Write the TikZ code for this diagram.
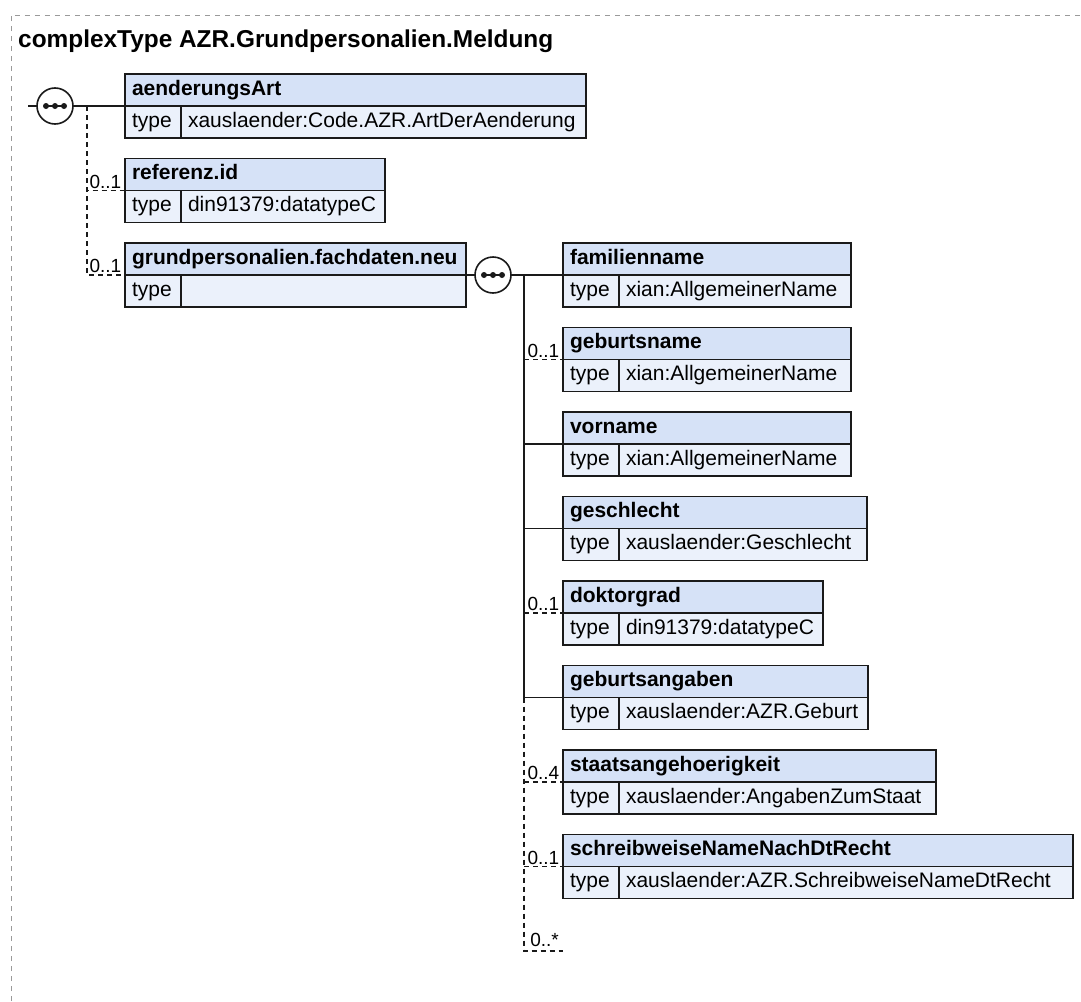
\documentclass[tikz,border=0pt]{standalone}
\usepackage{fontspec}
\setmainfont{Liberation Sans}
\definecolor{xsdhead}{HTML}{D6E2F7}
\definecolor{xsdtype}{HTML}{EBF1FB}
\definecolor{xsdline}{HTML}{1A1A1A}
\definecolor{xsdframe}{HTML}{9A9A9A}

\begin{document}
\begin{tikzpicture}[x=1pt,y=-1pt,font=\fontsize{21}{25}\selectfont,
  hdr/.style={draw=xsdline,fill=xsdhead,line width=1.8pt,font=\fontsize{21}{25}\selectfont\bfseries,
              align=left,inner xsep=7pt,inner ysep=6pt,text height=15pt,text depth=5pt,
              outer sep=0pt,anchor=north west},
  cell/.style={draw=xsdline,fill=xsdtype,line width=1.8pt,align=left,inner xsep=7pt,
               inner ysep=6pt,text height=15pt,text depth=5pt,outer sep=0pt,anchor=north west},
  mult/.style={font=\fontsize{19}{22}\selectfont,inner sep=0pt,anchor=base east},
  seq/.style={circle,draw=xsdline,fill=white,line width=1.6pt,minimum size=36pt,inner sep=0pt,
              outer sep=0pt},
  w/.style={xsdline,line width=1.6pt},
  opt/.style={xsdline,line width=1.6pt,dash pattern=on 5pt off 4pt},
  frm/.style={xsdframe,line width=1pt,dash pattern=on 5pt off 5pt}]

\useasboundingbox (0,0) rectangle (1081,1001);

% ---------------- frame and title ------------------------------------------
\draw[frm] (11,1001) -- (11,15) -- (1081,15);
\node[font=\fontsize{24.4}{28}\selectfont\bfseries,anchor=base west,inner sep=0pt] (title)
  at (18,47) {complexType AZR.Grundpersonalien.Meldung};

% ---------------- element boxes: name row over type row ---------------------
\foreach \n/\x/\y/\w/\lab/\typ in {
  aend/125/74/461/aenderungsArt/xauslaender:Code.AZR.ArtDerAenderung,
  ref/125/158.5/260/referenz.id/din91379:datatypeC,
  grund/125/243/341/grundpersonalien.fachdaten.neu/{},
  fam/563/243/288/familienname/xian:AllgemeinerName,
  gebN/563/327.5/288/geburtsname/xian:AllgemeinerName,
  vor/563/412/288/vorname/xian:AllgemeinerName,
  ges/563/496.5/304/geschlecht/xauslaender:Geschlecht,
  dok/563/581/260/doktorgrad/din91379:datatypeC,
  gebA/563/665.5/305/geburtsangaben/xauslaender:AZR.Geburt,
  staat/563/750/373/staatsangehoerigkeit/xauslaender:AngabenZumStaat,
  schreib/563/834.5/510/schreibweiseNameNachDtRecht/xauslaender:AZR.SchreibweiseNameDtRecht}{
  \pgfmathsetmacro\tw{\w-14}
  \pgfmathsetmacro\vw{\w-70}
  \node[hdr,text width=\tw pt] (\n) at (\x,\y) {\lab};
  \node[cell,text width=42pt] (\n-t) at (\n.south west) {type};
  \node[cell,text width=\vw pt] (\n-v) at (\n-t.north east) {\typ};
}

% ---------------- sequence compositors --------------------------------------
\node[seq] (seqA) at (55,106) {};
\node[seq] (seqB) at (493,275) {};
\foreach \s in {seqA,seqB}{
  \draw[w] ([xshift=-10pt]\s.center) -- ([xshift=10pt]\s.center);
  \foreach \d in {-9,0,9} \fill[xsdline] ([xshift=\d pt]\s.center) circle (3);
}

% ---------------- connectors ------------------------------------------------
\coordinate (inA) at (28,106);
\coordinate (busA) at (87,106);
\coordinate (busB) at (524,275);
\coordinate (anyEnd) at (563,951);

\draw[w] (inA) -- (seqA.west);
\draw[w] (seqA.east) -- (aend.south west);
\draw[opt] (busA) |- (ref.south west);
\draw[opt] (busA) |- (grund.south west);
\draw[w] (grund.south east) -- (seqB.west);
\draw[w] (seqB.east) -- (fam.south west);
\draw[w] (busB) -- (busB |- gebA.south west);
\foreach \c in {vor,ges,gebA} \draw[w] (busB |- \c.south west) -- (\c.south west);
\foreach \c in {gebN,dok,staat,schreib} \draw[opt] (busB |- \c.south west) -- (\c.south west);
\draw[opt] (busB |- gebA.south west) |- (anyEnd);

% ---------------- multiplicities --------------------------------------------
\foreach \c/\m in {ref/{0..1},grund/{0..1},gebN/{0..1},dok/{0..1},staat/{0..4},schreib/{0..1}}
  \node[mult] (\c-m) at ([shift={(-3.5pt,2.5pt)}]\c.south west) {\m};
\node[mult] (any-m) at ([shift={(-4pt,5pt)}]anyEnd) {0..*};

\end{tikzpicture}
\end{document}
